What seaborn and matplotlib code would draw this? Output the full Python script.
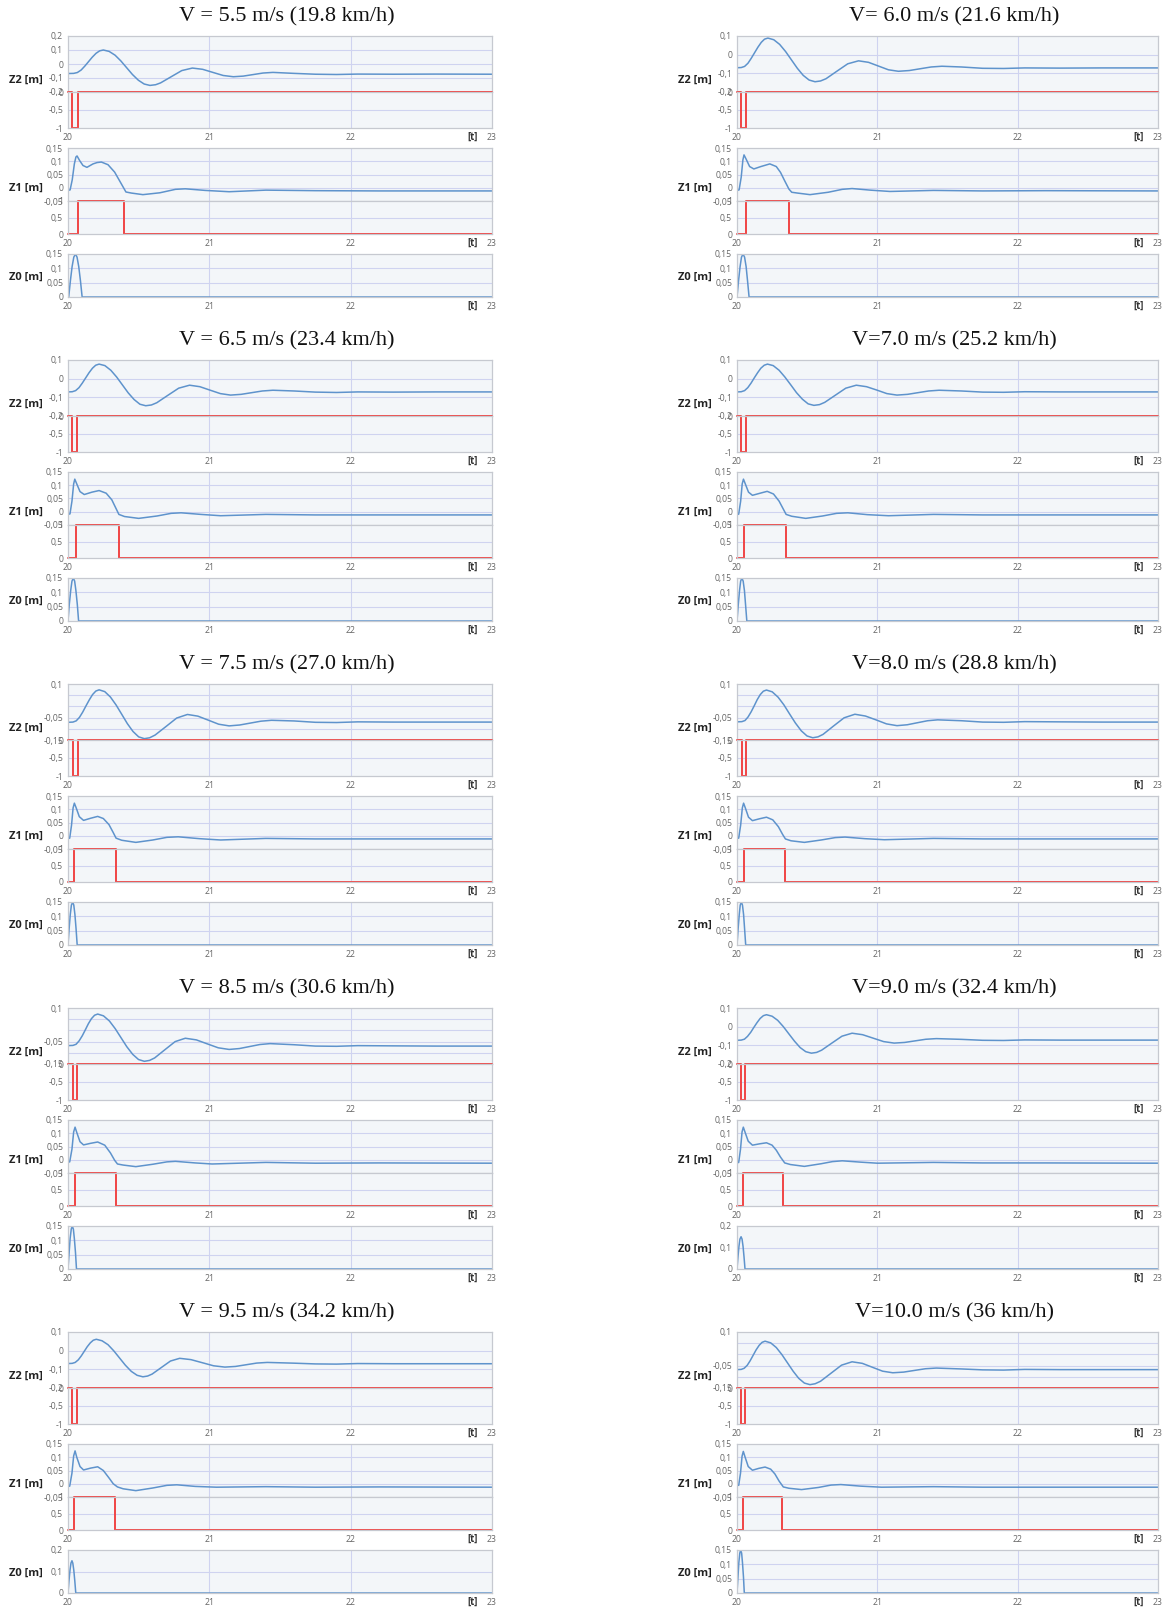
import matplotlib
matplotlib.use('Agg')
import matplotlib.pyplot as plt
import seaborn as sns
from matplotlib.ticker import AutoMinorLocator, MultipleLocator

sns.set_style('white')
plt.rcParams['font.family'] = ['Open Sans', 'DejaVu Sans']
plt.rcParams['axes.unicode_minus'] = False

# ---------------- data ----------------
TITLES = ["V = 5.5 m/s (19.8 km/h)", "V= 6.0 m/s (21.6 km/h)",
          "V = 6.5 m/s (23.4 km/h)", "V=7.0 m/s (25.2 km/h)",
          "V = 7.5 m/s (27.0 km/h)", "V=8.0 m/s (28.8 km/h)",
          "V = 8.5 m/s (30.6 km/h)", "V=9.0 m/s (32.4 km/h)",
          "V = 9.5 m/s (34.2 km/h)", "V=10.0 m/s (36 km/h)"]

# Z2 axis ranges per panel
Z2_LO = [-0.2, -0.2, -0.2, -0.2, -0.15, -0.15, -0.15, -0.2, -0.2, -0.15]
Z2_HI = [0.2, 0.1, 0.1, 0.1, 0.1, 0.1, 0.1, 0.1, 0.1, 0.1]
Z0_HI = [0.15, 0.15, 0.15, 0.15, 0.15, 0.15, 0.15, 0.2, 0.2, 0.15]

# Z2 sprung mass displacement (t, m)
Z2_55 = [(20.00,-0.068),(20.04,-0.067),(20.066,-0.061),(20.093,-0.043),(20.119,-0.015),(20.145,0.0165),(20.171,0.048),(20.198,0.076),(20.224,0.094),(20.25,0.100),(20.291,0.090),(20.333,0.063),(20.374,0.022),(20.415,-0.0265),(20.456,-0.075),(20.498,-0.116),(20.539,-0.143),(20.58,-0.153),(20.62,-0.148),(20.655,-0.135),(20.73,-0.091),(20.805,-0.047),(20.88,-0.029),(20.953,-0.038),(21.025,-0.060),(21.098,-0.082),(21.17,-0.091),(21.24,-0.0865),(21.31,-0.0755),(21.38,-0.0645),(21.45,-0.060),(21.6,-0.067),(21.75,-0.073),(21.9,-0.075),(22.05,-0.072),(22.3,-0.073),(22.6,-0.072),(23.0,-0.073)]
Z2_60 = [(20.00,-0.070),(20.03,-0.069),(20.054,-0.063),(20.078,-0.046),(20.101,-0.020),(20.125,0.010),(20.149,0.040),(20.173,0.066),(20.196,0.083),(20.22,0.089),(20.262,0.080),(20.304,0.055),(20.346,0.017),(20.388,-0.028),(20.43,-0.073),(20.472,-0.111),(20.514,-0.136),(20.556,-0.145),(20.595,-0.141),(20.634,-0.129),(20.711,-0.089),(20.789,-0.049),(20.866,-0.033),(20.937,-0.041),(21.008,-0.061),(21.079,-0.081),(21.15,-0.089),(21.228,-0.085),(21.305,-0.0755),(21.383,-0.066),(21.46,-0.062),(21.6,-0.066),(21.75,-0.073),(21.9,-0.074),(22.05,-0.071),(22.3,-0.072),(22.6,-0.071),(23.0,-0.071)]
Z2_65 = [(20.00,-0.071),(20.03,-0.070),(20.054,-0.064),(20.078,-0.048),(20.101,-0.024),(20.125,0.004),(20.149,0.032),(20.173,0.056),(20.196,0.072),(20.22,0.078),(20.261,0.070),(20.303,0.045),(20.344,0.009),(20.385,-0.0335),(20.426,-0.076),(20.468,-0.112),(20.509,-0.137),(20.55,-0.145),(20.59,-0.141),(20.628,-0.129),(20.705,-0.090),(20.783,-0.051),(20.86,-0.035),(20.933,-0.043),(21.005,-0.0615),(21.078,-0.080),(21.15,-0.088),(21.225,-0.084),(21.30,-0.075),(21.375,-0.066),(21.45,-0.062),(21.6,-0.066),(21.75,-0.072),(21.9,-0.074),(22.05,-0.071),(22.3,-0.072),(22.6,-0.071),(23.0,-0.071)]
Z2_70 = [(20.00,-0.071),(20.03,-0.070),(20.054,-0.064),(20.077,-0.048),(20.100,-0.024),(20.123,0.004),(20.147,0.032),(20.170,0.056),(20.194,0.072),(20.217,0.078),(20.258,0.070),(20.30,0.045),(20.341,0.009),(20.383,-0.033),(20.424,-0.075),(20.466,-0.110),(20.507,-0.135),(20.548,-0.143),(20.588,-0.139),(20.625,-0.127),(20.70,-0.089),(20.775,-0.051),(20.85,-0.035),(20.923,-0.043),(20.996,-0.061),(21.068,-0.080),(21.14,-0.088),(21.215,-0.084),(21.29,-0.075),(21.365,-0.066),(21.44,-0.062),(21.6,-0.066),(21.75,-0.072),(21.9,-0.073),(22.05,-0.070),(22.3,-0.071),(22.6,-0.071),(23.0,-0.071)]
Z2_75 = [(20.00,-0.071),(20.035,-0.070),(20.058,-0.0645),(20.081,-0.049),(20.104,-0.0255),(20.127,0.002),(20.151,0.0295),(20.174,0.053),(20.197,0.0685),(20.22,0.074),(20.26,0.066),(20.30,0.042),(20.34,0.0066),(20.38,-0.035),(20.42,-0.077),(20.46,-0.112),(20.50,-0.136),(20.54,-0.144),(20.578,-0.140),(20.616,-0.128),(20.693,-0.090),(20.769,-0.052),(20.845,-0.036),(20.919,-0.0435),(20.993,-0.0615),(21.066,-0.0795),(21.14,-0.087),(21.215,-0.083),(21.29,-0.0745),(21.365,-0.066),(21.44,-0.062),(21.6,-0.065),(21.75,-0.071),(21.9,-0.072),(22.05,-0.069),(22.3,-0.070),(22.6,-0.070),(23.0,-0.070)]
Z2_80 = [(20.00,-0.069),(20.035,-0.068),(20.057,-0.063),(20.079,-0.047),(20.101,-0.024),(20.123,0.003),(20.144,0.030),(20.166,0.053),(20.188,0.068),(20.21,0.073),(20.251,0.065),(20.293,0.041),(20.334,0.007),(20.375,-0.034),(20.416,-0.074),(20.458,-0.109),(20.499,-0.132),(20.54,-0.140),(20.577,-0.136),(20.613,-0.125),(20.687,-0.088),(20.763,-0.051),(20.84,-0.035),(20.915,-0.043),(20.99,-0.060),(21.065,-0.078),(21.14,-0.086),(21.213,-0.082),(21.285,-0.073),(21.358,-0.064),(21.43,-0.060),(21.6,-0.064),(21.75,-0.070),(21.9,-0.071),(22.05,-0.068),(22.3,-0.069),(22.6,-0.070),(23.0,-0.070)]
Z2_85 = [(20.00,-0.068),(20.035,-0.067),(20.057,-0.062),(20.079,-0.0465),(20.101,-0.024),(20.123,0.003),(20.144,0.0297),(20.166,0.0525),(20.188,0.0677),(20.21,0.073),(20.251,0.065),(20.293,0.042),(20.334,0.0078),(20.375,-0.0325),(20.416,-0.0728),(20.458,-0.107),(20.499,-0.130),(20.54,-0.138),(20.577,-0.134),(20.613,-0.123),(20.685,-0.0865),(20.758,-0.050),(20.83,-0.035),(20.908,-0.0423),(20.985,-0.060),(21.063,-0.0777),(21.14,-0.085),(21.213,-0.081),(21.285,-0.072),(21.358,-0.063),(21.43,-0.059),(21.6,-0.064),(21.75,-0.070),(21.9,-0.071),(22.05,-0.068),(22.3,-0.069),(22.6,-0.070),(23.0,-0.070)]
Z2_90 = [(20.00,-0.073),(20.03,-0.072),(20.053,-0.067),(20.075,-0.052),(20.098,-0.030),(20.12,-0.004),(20.143,0.022),(20.165,0.044),(20.188,0.059),(20.21,0.064),(20.25,0.056),(20.29,0.034),(20.33,0.0003),(20.37,-0.039),(20.41,-0.078),(20.45,-0.112),(20.49,-0.134),(20.53,-0.142),(20.567,-0.138),(20.603,-0.126),(20.675,-0.0885),(20.748,-0.051),(20.82,-0.035),(20.895,-0.043),(20.97,-0.0615),(21.045,-0.080),(21.12,-0.088),(21.195,-0.0845),(21.27,-0.076),(21.345,-0.0675),(21.42,-0.064),(21.6,-0.068),(21.75,-0.073),(21.9,-0.074),(22.05,-0.071),(22.3,-0.072),(22.6,-0.072),(23.0,-0.072)]
Z2_95 = [(20.00,-0.069),(20.03,-0.068),(20.051,-0.063),(20.073,-0.049),(20.094,-0.028),(20.115,-0.0035),(20.136,0.021),(20.158,0.042),(20.179,0.056),(20.20,0.061),(20.241,0.053),(20.283,0.032),(20.324,-0.001),(20.365,-0.0395),(20.406,-0.078),(20.448,-0.111),(20.489,-0.132),(20.53,-0.140),(20.563,-0.136),(20.595,-0.1255),(20.66,-0.0905),(20.725,-0.0555),(20.79,-0.041),(20.87,-0.048),(20.95,-0.0645),(21.03,-0.081),(21.11,-0.088),(21.185,-0.0845),(21.26,-0.0755),(21.335,-0.0665),(21.41,-0.063),(21.6,-0.067),(21.75,-0.071),(21.9,-0.072),(22.05,-0.069),(22.3,-0.070),(22.6,-0.070),(23.0,-0.070)]
Z2_100 = [(20.00,-0.068),(20.03,-0.067),(20.051,-0.062),(20.073,-0.0486),(20.094,-0.028),(20.115,-0.004),(20.136,0.020),(20.158,0.0406),(20.179,0.054),(20.20,0.059),(20.24,0.0516),(20.28,0.0307),(20.32,-0.001),(20.36,-0.038),(20.40,-0.075),(20.44,-0.107),(20.48,-0.128),(20.52,-0.135),(20.557,-0.131),(20.595,-0.120),(20.67,-0.084),(20.745,-0.048),(20.82,-0.033),(20.893,-0.040),(20.965,-0.0575),(21.038,-0.075),(21.11,-0.082),(21.188,-0.079),(21.265,-0.0715),(21.343,-0.064),(21.42,-0.061),(21.6,-0.065),(21.75,-0.069),(21.9,-0.070),(22.05,-0.067),(22.3,-0.068),(22.6,-0.068),(23.0,-0.068)]

# Z1 unsprung mass displacement (t, m)
Z1_55 = [(20.0,-0.01),(20.015,-0.008),(20.03,0.03),(20.045,0.09),(20.056,0.116),(20.064,0.12),(20.083,0.102),(20.106,0.084),(20.134,0.077),(20.177,0.09),(20.205,0.095),(20.236,0.097),(20.283,0.087),(20.33,0.059),(20.377,0.015),(20.41,-0.016),(20.448,-0.02),(20.53,-0.026),(20.65,-0.019),(20.76,-0.006),(20.83,-0.004),(20.97,-0.01),(21.14,-0.015),(21.4,-0.009),(21.75,-0.011),(22.2,-0.012),(23.0,-0.012)]
Z1_60 = [(20.0,-0.01),(20.015,-0.008),(20.03,0.04),(20.042,0.105),(20.05,0.124),(20.065,0.108),(20.09,0.08),(20.12,0.071),(20.17,0.08),(20.234,0.09),(20.28,0.08),(20.31,0.058),(20.34,0.026),(20.37,-0.005),(20.39,-0.017),(20.43,-0.02),(20.52,-0.026),(20.65,-0.017),(20.75,-0.006),(20.82,-0.003),(20.95,-0.009),(21.09,-0.014),(21.4,-0.01),(21.75,-0.012),(22.2,-0.011),(23.0,-0.012)]
Z1_65 = [(20.0,-0.01),(20.014,-0.008),(20.028,0.04),(20.04,0.105),(20.048,0.123),(20.062,0.105),(20.085,0.076),(20.115,0.065),(20.17,0.074),(20.22,0.08),(20.27,0.07),(20.31,0.045),(20.34,0.012),(20.36,-0.01),(20.4,-0.018),(20.5,-0.025),(20.63,-0.016),(20.73,-0.006),(20.8,-0.004),(20.94,-0.01),(21.08,-0.015),(21.4,-0.01),(21.75,-0.012),(22.2,-0.012),(23.0,-0.012)]
Z1_70 = [(20.0,-0.011),(20.012,-0.009),(20.026,0.04),(20.037,0.105),(20.046,0.123),(20.06,0.104),(20.082,0.074),(20.11,0.062),(20.165,0.07),(20.215,0.077),(20.26,0.067),(20.3,0.04),(20.33,0.01),(20.35,-0.01),(20.39,-0.017),(20.49,-0.025),(20.61,-0.016),(20.71,-0.006),(20.79,-0.004),(20.93,-0.011),(21.08,-0.015),(21.4,-0.01),(21.75,-0.012),(22.2,-0.012),(23.0,-0.012)]
Z1_75 = [(20.0,-0.011),(20.012,-0.009),(20.025,0.04),(20.036,0.105),(20.045,0.123),(20.058,0.105),(20.08,0.072),(20.11,0.058),(20.16,0.066),(20.21,0.073),(20.25,0.065),(20.29,0.042),(20.32,0.012),(20.34,-0.009),(20.38,-0.017),(20.48,-0.025),(20.6,-0.016),(20.7,-0.006),(20.78,-0.004),(20.93,-0.011),(21.08,-0.016),(21.4,-0.01),(21.75,-0.012),(22.2,-0.012),(23.0,-0.012)]
Z1_80 = [(20.0,-0.01),(20.012,-0.009),(20.026,0.04),(20.038,0.105),(20.047,0.123),(20.06,0.104),(20.082,0.07),(20.11,0.057),(20.16,0.064),(20.21,0.07),(20.255,0.06),(20.295,0.034),(20.325,0.005),(20.345,-0.012),(20.385,-0.019),(20.48,-0.025),(20.6,-0.016),(20.7,-0.007),(20.77,-0.005),(20.91,-0.011),(21.05,-0.015),(21.4,-0.01),(21.75,-0.012),(22.2,-0.012),(23.0,-0.012)]
Z1_85 = [(20.0,-0.009),(20.012,-0.008),(20.028,0.04),(20.04,0.105),(20.05,0.123),(20.062,0.103),(20.085,0.068),(20.11,0.056),(20.16,0.062),(20.21,0.067),(20.26,0.055),(20.3,0.026),(20.33,-0.002),(20.35,-0.016),(20.39,-0.02),(20.48,-0.026),(20.6,-0.017),(20.7,-0.008),(20.76,-0.006),(20.9,-0.012),(21.02,-0.016),(21.4,-0.01),(21.75,-0.013),(22.2,-0.012),(23.0,-0.013)]
Z1_90 = [(20.0,-0.012),(20.012,-0.01),(20.025,0.04),(20.036,0.105),(20.045,0.123),(20.058,0.103),(20.08,0.07),(20.11,0.055),(20.16,0.06),(20.21,0.064),(20.25,0.055),(20.28,0.036),(20.31,0.01),(20.34,-0.012),(20.38,-0.018),(20.48,-0.025),(20.6,-0.015),(20.68,-0.007),(20.75,-0.004),(20.88,-0.009),(21.0,-0.013),(21.4,-0.01),(21.75,-0.012),(22.2,-0.012),(23.0,-0.013)]
Z1_95 = [(20.0,-0.01),(20.012,-0.009),(20.028,0.04),(20.04,0.105),(20.05,0.124),(20.062,0.1),(20.085,0.065),(20.11,0.052),(20.16,0.059),(20.21,0.064),(20.25,0.05),(20.29,0.022),(20.32,0.0),(20.35,-0.012),(20.39,-0.019),(20.48,-0.026),(20.6,-0.016),(20.7,-0.006),(20.77,-0.004),(20.9,-0.01),(21.05,-0.013),(21.4,-0.011),(21.75,-0.013),(22.2,-0.012),(23.0,-0.013)]
Z1_100 = [(20.0,-0.005),(20.012,-0.006),(20.025,0.04),(20.036,0.104),(20.045,0.122),(20.058,0.1),(20.08,0.065),(20.11,0.051),(20.155,0.058),(20.2,0.063),(20.24,0.055),(20.27,0.037),(20.30,0.01),(20.33,-0.012),(20.37,-0.017),(20.46,-0.022),(20.58,-0.014),(20.67,-0.005),(20.74,-0.003),(20.88,-0.009),(21.03,-0.013),(21.4,-0.011),(21.75,-0.013),(22.2,-0.013),(23.0,-0.013)]

# Z0 road bump profile: times per panel, shared heights
Z0_VALS = [0.0, 0.057, 0.106, 0.139, 0.150, 0.139, 0.106, 0.057, 0.0, 0.0]
Z0_55 = [20.005, 20.017, 20.029, 20.041, 20.053, 20.064, 20.076, 20.088, 20.10, 23.0]
Z0_60 = [20.0, 20.011, 20.022, 20.032, 20.043, 20.054, 20.065, 20.075, 20.086, 23.0]
Z0_65 = [20.0, 20.009, 20.019, 20.028, 20.038, 20.047, 20.056, 20.066, 20.075, 23.0]
Z0_70 = [20.0, 20.009, 20.018, 20.026, 20.035, 20.044, 20.053, 20.061, 20.07, 23.0]
Z0_75 = [20.0, 20.008, 20.016, 20.024, 20.033, 20.041, 20.049, 20.057, 20.065, 23.0]
Z0_80 = [20.0, 20.008, 20.016, 20.023, 20.031, 20.039, 20.047, 20.054, 20.062, 23.0]
Z0_85 = [20.0, 20.008, 20.015, 20.023, 20.03, 20.038, 20.045, 20.053, 20.06, 23.0]
Z0_90 = [20.0, 20.007, 20.014, 20.021, 20.029, 20.036, 20.043, 20.05, 20.057, 23.0]
Z0_95 = [20.0, 20.007, 20.014, 20.021, 20.028, 20.034, 20.041, 20.048, 20.055, 23.0]
Z0_100 = [20.0, 20.007, 20.013, 20.02, 20.026, 20.033, 20.039, 20.046, 20.052, 23.0]

# switching signals (red): Z2 drop window, Z1 on window
SW2_ON = [20.03, 20.03, 20.03, 20.03, 20.036, 20.033, 20.033, 20.028, 20.03, 20.03]
SW2_OFF = [20.073, 20.067, 20.065, 20.063, 20.07, 20.066, 20.066, 20.06, 20.062, 20.057]
SW1_ON = [20.073, 20.062, 20.055, 20.05, 20.045, 20.05, 20.05, 20.043, 20.043, 20.04]
SW1_OFF = [20.396, 20.372, 20.36, 20.35, 20.34, 20.34, 20.34, 20.33, 20.33, 20.32]

Z2_ALL = [Z2_55, Z2_60, Z2_65, Z2_70, Z2_75, Z2_80, Z2_85, Z2_90, Z2_95, Z2_100]
Z1_ALL = [Z1_55, Z1_60, Z1_65, Z1_70, Z1_75, Z1_80, Z1_85, Z1_90, Z1_95, Z1_100]
Z0_ALL = [Z0_55, Z0_60, Z0_65, Z0_70, Z0_75, Z0_80, Z0_85, Z0_90, Z0_95, Z0_100]

# ---------------- layout / style ----------------
W, H = 1170, 1609
BLUE = '#5e93cc'
RED = '#f04545'
FACE = '#f3f6f9'
GRID = '#cfd3f0'
SPINE = '#c6c9d0'
COLS = [(68, 492), (737, 1158)]
ROW_TOP0, ROW_STEP = 36, 324
SUBS = [(0, 56), (56, 92), (112, 165), (165, 198), (218, 261)]

fig = plt.figure(figsize=(W / 100, H / 100), dpi=100)
fig.patch.set_facecolor('white')


def lab(v):
    return ('%g' % v).replace('.', ',')


def make_ax(x0, x1, ytop, ybot):
    return fig.add_axes([x0 / W, 1 - ybot / H, (x1 - x0) / W, (ybot - ytop) / H])


def style(ax, lo, hi, ticks, labels, grid_y, xlab):
    ax.set_facecolor(FACE)
    ax.set_xlim(20, 23)
    ax.set_ylim(lo, hi)
    for s in ax.spines.values():
        s.set_color(SPINE)
        s.set_linewidth(0.9)
    for g in grid_y:
        ax.axhline(g, color=GRID, lw=0.8, zorder=0.5)
    for gx in (21, 22):
        ax.axvline(gx, color=GRID, lw=0.8, zorder=0.5)
    ax.set_yticks(ticks)
    ax.set_yticklabels(labels)
    ax.yaxis.set_minor_locator(AutoMinorLocator(5))
    ax.tick_params(axis='y', which='major', length=2.5, width=0.8, color='#777777',
                   labelsize=6.2, labelcolor='#666666', pad=1)
    ax.tick_params(axis='y', which='minor', length=1.5, width=0.6, color='#9a9a9a')
    if xlab:
        ax.set_xticks([20, 21, 22, 23])
        ax.set_xticklabels(['20', '21', '22', '23'])
        ax.xaxis.set_minor_locator(MultipleLocator(0.1))
        ax.tick_params(axis='x', which='major', length=2, width=1, color='#555555',
                       labelsize=6.2, labelcolor='#666666', pad=1.5)
        ax.tick_params(axis='x', which='minor', length=2, width=1, color='#555555')
        ax.annotate('[t]', xy=(22.86, 0), xycoords=('data', 'axes fraction'),
                    xytext=(0, -9), textcoords='offset pixels', ha='center', va='center',
                    fontsize=7, fontweight='bold', color='#333333')
    else:
        ax.set_xticks([])
        ax.xaxis.set_minor_locator(MultipleLocator(10))
    ax.set_xlabel('')
    ax.set_ylabel('')


def line(ax, t, v, color, lw, **kw):
    sns.lineplot(x=t, y=v, ax=ax, color=color, linewidth=lw, estimator=None,
                 sort=False, legend=False, **kw)


for i in range(10):
    col, row = i % 2, i // 2
    x0, x1 = COLS[col]
    top = ROW_TOP0 + ROW_STEP * row
    axs = [make_ax(x0, x1, top + a, top + b) for a, b in SUBS]

    # Z2 blue
    lo, hi = Z2_LO[i], Z2_HI[i]
    t2 = [p[0] for p in Z2_ALL[i]]
    v2 = [p[1] for p in Z2_ALL[i]]
    line(axs[0], t2, v2, BLUE, 1.1)
    if hi - lo > 0.35:
        tk = [-0.2, -0.1, 0.0, 0.1, 0.2]
        style(axs[0], lo, hi, tk, [lab(v) for v in tk], [-0.1, 0.0, 0.1], False)
    elif lo < -0.17:
        tk = [-0.2, -0.1, 0.0, 0.1]
        style(axs[0], lo, hi, tk, [lab(v) for v in tk], [-0.1, 0.0], False)
    else:
        tk = [-0.15, -0.1, -0.05, 0.0, 0.05, 0.1]
        tl = ['-0,15', '', '-0,05', '', '', '0,1']
        style(axs[0], lo, hi, tk, tl, [-0.1, -0.05, 0.0, 0.05], False)

    # Z2 switch (red)
    line(axs[1], [20.0, SW2_ON[i], SW2_OFF[i], 23.0], [0, -1, 0, 0], RED, 1.4,
         drawstyle='steps-post', clip_on=False)
    style(axs[1], -1, 0, [-1, -0.5, 0], ['-1', '-0,5', '0'], [-0.5], True)

    # Z1 blue
    t1 = [p[0] for p in Z1_ALL[i]]
    v1 = [p[1] for p in Z1_ALL[i]]
    line(axs[2], t1, v1, BLUE, 1.1)
    tk = [-0.05, 0.0, 0.05, 0.1, 0.15]
    style(axs[2], -0.05, 0.15, tk, [lab(v) for v in tk], [0.0, 0.05, 0.1], False)

    # Z1 switch (red)
    line(axs[3], [20.0, SW1_ON[i], SW1_OFF[i], 23.0], [0, 1, 0, 0], RED, 1.4,
         drawstyle='steps-post', clip_on=False)
    style(axs[3], 0, 1, [0, 0.5, 1], ['0', '0,5', '1'], [0.5], True)

    # Z0 road
    line(axs[4], Z0_ALL[i], Z0_VALS, BLUE, 1.1)
    if Z0_HI[i] > 0.17:
        tk = [0.0, 0.1, 0.2]
        style(axs[4], 0, 0.2, tk, [lab(v) for v in tk], [0.1], True)
    else:
        tk = [0.0, 0.05, 0.1, 0.15]
        style(axs[4], 0, 0.15, tk, [lab(v) for v in tk], [0.05, 0.1], True)

    # labels
    for txt, rel in (('Z2 [m]', 44), ('Z1 [m]', 152), ('Z0 [m]', 241)):
        fig.text((x0 - 59) / W, 1 - (top + rel) / H, txt, ha='left', va='center',
                 fontsize=8, fontweight='bold', color='#222222')
    fig.text(((x0 + x1) / 2 + 7) / W, 1 - (top - 19) / H, TITLES[i], ha='center',
             va='center', fontsize=16, family=['Liberation Serif', 'DejaVu Serif'],
             color='#111111')

fig.savefig('out.png', dpi=100, facecolor='white')
